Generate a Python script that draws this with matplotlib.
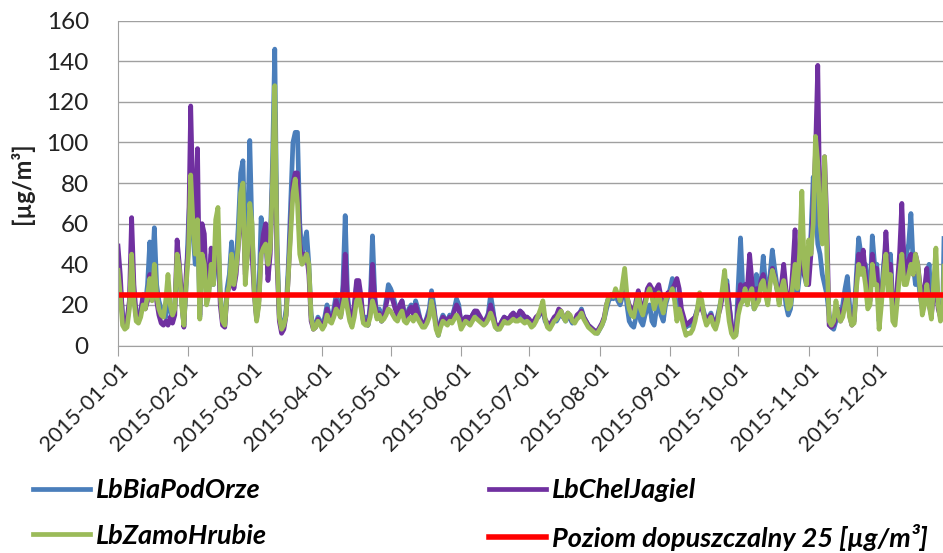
import matplotlib
matplotlib.use('Agg')
import matplotlib.pyplot as plt
import matplotlib.dates as mdates
from matplotlib.transforms import ScaledTranslation
import numpy as np
import pandas as pd

# daily PM10 values, 2015-01-01 .. 2015-12-31
bia = [40, 30, 15, 10, 12, 20, 42, 25, 14, 13, 18, 22, 20, 30, 51, 35, 58, 30, 22, 18, 15, 14, 25, 18, 12, 20, 40, 35, 22, 10, 30,
       60, 80, 55, 40, 70, 14, 55, 45, 22, 28, 45, 30, 40, 55, 25, 12, 10, 28, 35, 51, 30, 40, 60, 85, 91, 45, 55, 101,
       55, 30, 14, 25, 63, 50, 55, 35, 50, 90, 146, 50, 15, 9, 10, 18, 40, 70, 100, 105, 105, 60, 45, 50, 56, 40, 15, 9, 10, 14, 12,
       10, 14, 20, 15, 12, 18, 25, 20, 15, 30, 64, 25, 15, 12, 18, 30, 28, 20, 12, 14, 10, 20, 54, 25, 14, 18, 12, 15, 22, 30,
       28, 25, 20, 15, 18, 22, 16, 14, 18, 20, 16, 22, 18, 13, 10, 11, 14, 18, 27, 20, 10, 5, 12, 15, 13, 12, 15, 14, 18, 23, 20,
       10, 12, 14, 13, 12, 15, 17, 16, 14, 12, 11, 13, 16, 25, 18, 10, 8, 9, 12, 14, 13, 12, 14, 16, 13, 14, 17, 15, 13, 14,
       12, 10, 11, 13, 14, 16, 18, 12, 10, 9, 11, 13, 12, 14, 16, 14, 12, 15, 13, 11, 12, 14, 15, 18, 14, 12, 10, 9, 8, 7, 6,
       8, 10, 13, 18, 22, 24, 23, 25, 22, 20, 24, 30, 20, 12, 10, 9, 14, 22, 12, 10, 15, 18, 20, 12, 10, 18, 22, 15, 12, 20, 24,
       28, 33, 25, 20, 22, 15, 12, 9, 10, 10, 12, 14, 18, 22, 20, 16, 12, 14, 16, 12, 10, 15, 20, 25, 28, 32, 20, 10, 8, 6,
       30, 53, 28, 30, 22, 35, 30, 18, 35, 28, 30, 44, 30, 24, 35, 47, 38, 30, 22, 28, 30, 20, 15, 18, 28, 40, 25, 35, 40, 35, 30,
       40, 55, 83, 70, 50, 45, 35, 30, 25, 15, 9, 8, 12, 18, 15, 20, 28, 34, 20, 12, 14, 35, 53, 45, 38, 40, 30, 25, 54, 40,
       40, 12, 25, 40, 50, 30, 45, 20, 15, 25, 40, 55, 35, 45, 50, 65, 40, 30, 35, 25, 18, 25, 30, 40, 20, 25, 40, 20, 15, 18, 80]

chel = [49, 35, 14, 11, 13, 22, 63, 30, 15, 12, 16, 25, 18, 22, 35, 25, 38, 22, 15, 11, 10, 12, 10, 14, 11, 15, 52, 40, 25, 9, 35,
        50, 118, 70, 60, 97, 15, 60, 55, 25, 30, 48, 35, 40, 50, 20, 10, 9, 25, 30, 40, 28, 35, 50, 65, 70, 35, 45, 60,
        45, 25, 13, 22, 45, 55, 60, 32, 45, 80, 115, 40, 12, 6, 8, 15, 35, 60, 80, 85, 85, 50, 42, 45, 45, 35, 12, 8, 9, 13, 11,
        9, 12, 18, 14, 12, 16, 22, 18, 14, 25, 45, 22, 14, 12, 20, 32, 32, 24, 12, 12, 10, 18, 40, 22, 14, 16, 12, 14, 20, 25,
        25, 22, 18, 15, 20, 22, 15, 14, 17, 19, 15, 20, 16, 13, 10, 11, 13, 16, 22, 18, 10, 7, 11, 14, 13, 12, 14, 13, 17, 20, 18,
        12, 12, 14, 14, 13, 15, 17, 17, 15, 13, 12, 13, 15, 20, 16, 11, 9, 10, 12, 14, 13, 13, 15, 16, 14, 15, 17, 16, 14, 14,
        13, 11, 12, 14, 15, 16, 17, 13, 11, 10, 12, 14, 15, 18, 17, 14, 13, 16, 14, 12, 12, 15, 16, 17, 14, 12, 10, 9, 8, 7, 7,
        9, 11, 14, 20, 24, 25, 24, 26, 24, 22, 25, 28, 24, 20, 18, 15, 22, 27, 20, 16, 22, 28, 30, 28, 22, 28, 30, 24, 18, 22, 26,
        26, 28, 30, 33, 28, 18, 14, 10, 11, 12, 13, 14, 17, 20, 18, 15, 13, 14, 15, 12, 10, 14, 18, 24, 28, 30, 20, 10, 8, 7,
        20, 30, 25, 30, 28, 45, 32, 20, 28, 25, 32, 35, 28, 22, 32, 38, 34, 28, 22, 30, 40, 28, 20, 22, 38, 57, 30, 40, 45, 35, 32,
        30, 45, 70, 95, 138, 60, 55, 93, 60, 10, 9, 10, 14, 18, 12, 16, 22, 25, 15, 10, 12, 30, 45, 40, 47, 35, 20, 22, 45, 35,
        38, 15, 25, 35, 56, 35, 40, 18, 14, 30, 45, 70, 40, 35, 42, 45, 35, 45, 40, 30, 20, 28, 38, 20, 15, 25, 35, 18, 14, 16, 45]

zamo = [37, 25, 10, 8, 9, 18, 45, 22, 12, 11, 14, 20, 18, 25, 33, 22, 40, 25, 18, 15, 14, 22, 35, 20, 15, 18, 45, 38, 20, 10, 30,
        45, 84, 60, 45, 62, 13, 45, 40, 20, 25, 40, 30, 62, 68, 25, 12, 10, 25, 30, 45, 30, 38, 50, 75, 80, 30, 45, 70,
        60, 25, 12, 20, 45, 48, 50, 40, 48, 80, 128, 45, 14, 8, 10, 15, 35, 55, 75, 82, 70, 45, 40, 42, 45, 40, 14, 8, 9, 12, 10,
        8, 10, 15, 12, 11, 14, 18, 16, 14, 20, 25, 18, 12, 9, 14, 22, 24, 18, 11, 10, 10, 14, 22, 18, 13, 15, 12, 13, 15, 18,
        17, 15, 13, 12, 15, 17, 12, 11, 13, 14, 12, 15, 13, 11, 9, 9, 11, 14, 22, 16, 8, 5, 9, 12, 11, 10, 12, 11, 13, 15, 13,
        8, 10, 12, 11, 10, 12, 14, 13, 12, 11, 10, 11, 13, 16, 13, 9, 8, 8, 10, 12, 11, 11, 12, 13, 12, 12, 13, 12, 11, 12,
        11, 9, 10, 12, 15, 18, 22, 13, 9, 8, 10, 12, 13, 15, 17, 14, 12, 16, 15, 12, 11, 13, 14, 16, 13, 11, 9, 8, 7, 6, 6,
        8, 10, 13, 20, 24, 25, 24, 28, 25, 22, 30, 38, 25, 18, 15, 14, 20, 25, 18, 15, 20, 25, 28, 24, 18, 22, 26, 20, 16, 22, 25,
        25, 28, 22, 12, 18, 14, 9, 5, 6, 6, 8, 12, 18, 26, 22, 14, 10, 12, 14, 10, 8, 12, 20, 28, 37, 22, 12, 6, 4, 5,
        15, 20, 22, 28, 20, 25, 28, 18, 20, 22, 30, 32, 25, 20, 30, 37, 33, 28, 20, 28, 32, 25, 18, 20, 30, 40, 28, 45, 76, 40, 30,
        52, 45, 60, 103, 90, 60, 50, 93, 45, 12, 10, 12, 22, 15, 12, 14, 20, 25, 14, 10, 11, 28, 40, 35, 38, 30, 18, 20, 40, 30,
        30, 8, 20, 35, 45, 25, 35, 12, 10, 22, 35, 45, 30, 30, 35, 40, 35, 45, 40, 28, 15, 20, 30, 20, 13, 30, 48, 20, 12, 15, 58]

limit = 25
labels = ['LbBiaPodOrze', 'LbChelJagiel', 'LbZamoHrubie', 'Poziom dopuszczalny 25 [µg/m³]']
colors = ['#4A7EBB', '#7030A0', '#9BBB59', '#FF0000']

dates = pd.date_range('2015-01-01', periods=len(bia), freq='D')

plt.rcParams['font.family'] = ['Lato', 'DejaVu Sans']

fig = plt.figure(figsize=(9.43, 5.53), dpi=100)
ax = fig.add_axes([118/943, 1-345.5/553, 827/943, 324.8/553])

l1, = ax.plot(dates, bia, color=colors[0], lw=3.4, solid_joinstyle='round')
l2, = ax.plot(dates, chel, color=colors[1], lw=3.4, solid_joinstyle='round')
l3, = ax.plot(dates, zamo, color=colors[2], lw=3.4, solid_joinstyle='round')
l4, = ax.plot(dates, [limit]*len(dates), color=colors[3], lw=4)

ax.set_xlim(dates[0], dates[-1])
ax.set_ylim(0, 160)
ax.set_yticks(np.arange(0, 161, 20))
ax.yaxis.grid(True, color='#a0a0a0', lw=1)
ax.set_axisbelow(True)
for s in ['top', 'right']:
    ax.spines[s].set_visible(False)
for s in ['left', 'bottom']:
    ax.spines[s].set_color('#a0a0a0')
ax.tick_params(axis='y', length=0, pad=21, labelsize=17.5, colors='#222222')
ax.tick_params(axis='x', length=7, color='#a0a0a0', direction='out', pad=8, labelsize=15.5, labelcolor='#222222')

ax.set_xticks(pd.date_range('2015-01-01', '2015-12-01', freq='MS'))
ax.xaxis.set_major_formatter(mdates.DateFormatter('%Y-%m-%d'))
off = ScaledTranslation(7/100, 0, fig.dpi_scale_trans)
for lab in ax.get_xticklabels():
    lab.set_rotation(45)
    lab.set_rotation_mode('anchor')
    lab.set_ha('right')
    lab.set_va('center')
    lab.set_transform(lab.get_transform() + off)

fig.text(22/943, 1-183/553, '[µg/m³]', rotation=90, ha='center', va='center',
         fontsize=17, fontweight='bold', color='#222222')

fig.legend([l1, l3, l2, l4], [labels[0], labels[2], labels[1], labels[3]],
           ncol=2, loc='upper left', bbox_to_anchor=(33/943, 1-478/553),
           frameon=False, borderpad=0, borderaxespad=0,
           handlelength=2.1, handletextpad=0.22, labelspacing=0.8, columnspacing=8.2,
           prop={'size': 19.5, 'weight': 'bold', 'style': 'italic'})

fig.savefig('out.png', dpi=100)
